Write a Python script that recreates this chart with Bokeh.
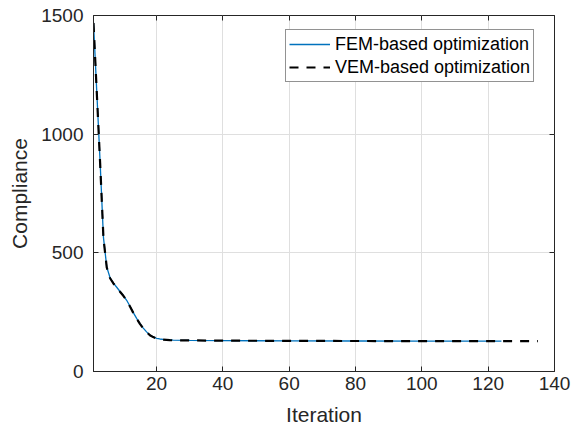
from bokeh.plotting import figure
from bokeh.models import Range1d, LinearAxis, Legend, LegendItem, FixedTicker
from bokeh.embed import file_html
from bokeh.resources import INLINE

# Data
fem_iter = [1, 2, 3, 4, 5, 6, 7, 8, 9, 10, 11, 12, 13, 14, 15, 16, 17, 18, 19, 20,
            21, 22, 23, 24, 25, 30, 40, 60, 80, 100, 124]
fem_val = [1470, 1175, 880, 565, 440, 395, 372, 355, 337, 320, 300, 275, 248, 224, 202,
           183, 167, 154, 146, 140, 137, 135, 134, 133, 132, 131, 130, 129, 128.5, 128, 128]

vem_iter = [1, 2, 3, 4, 5, 6, 7, 8, 9, 10, 11, 12, 13, 14, 15, 16, 17, 18, 19, 20,
            21, 22, 23, 24, 25, 30, 40, 60, 80, 100, 120, 135]
vem_val = [1468, 1172, 878, 562, 438, 393, 371, 354, 336, 319, 299, 274, 247, 223, 201,
           182, 166, 153, 145, 139, 136, 134, 133, 132, 131.5, 131, 130, 129, 128.5, 128, 128, 128]

x_ticks = [20, 40, 60, 80, 100, 120, 140]
y_ticks = [0, 500, 1000, 1500]

FONT = "Liberation Sans"
AX = "#262626"

p = figure(width=571, height=428, output_backend="svg", toolbar_location=None,
           x_range=Range1d(1, 140), y_range=Range1d(0, 1500),
           min_border_left=93, min_border_right=17, min_border_top=15, min_border_bottom=57)
p.outline_line_color = AX
p.outline_line_width = 1
p.background_fill_color = "white"

for ax in (p.xaxis[0], p.yaxis[0]):
    ax.axis_line_color = AX
    ax.major_tick_line_color = AX
    ax.major_tick_in = 5
    ax.major_tick_out = 0
    ax.minor_tick_line_color = None
    ax.major_label_text_font = FONT
    ax.major_label_text_font_size = "19px"
    ax.major_label_text_color = AX
    ax.axis_label_text_font = FONT
    ax.axis_label_text_font_size = "21px"
    ax.axis_label_text_font_style = "normal"
    ax.axis_label_text_color = AX

p.xaxis.ticker = FixedTicker(ticks=x_ticks)
p.yaxis.ticker = FixedTicker(ticks=y_ticks)
p.xaxis.axis_label = "Iteration"
p.yaxis.axis_label = "Compliance"
p.xaxis.major_label_standoff = 5
p.xaxis.axis_label_standoff = 10
p.yaxis.major_label_standoff = 10
p.yaxis.axis_label_standoff = 7

# box ticks on top and right (no labels)
top = LinearAxis(ticker=FixedTicker(ticks=x_ticks), axis_line_color=None,
                 major_tick_in=5, major_tick_out=0, major_tick_line_color=AX,
                 minor_tick_line_color=None,
                 major_label_overrides={t: "" for t in x_ticks},
                 major_label_standoff=0)
right = LinearAxis(ticker=FixedTicker(ticks=y_ticks), axis_line_color=None,
                   major_tick_in=5, major_tick_out=0, major_tick_line_color=AX,
                   minor_tick_line_color=None,
                   major_label_overrides={t: "" for t in y_ticks},
                   major_label_standoff=0)
p.add_layout(top, "above")
p.add_layout(right, "right")

p.xgrid.ticker = FixedTicker(ticks=x_ticks)
p.ygrid.ticker = FixedTicker(ticks=y_ticks)
p.grid.grid_line_color = "#dfdfdf"
p.grid.grid_line_width = 1

r_fem = p.line(fem_iter, fem_val, line_color="#0072BD", line_width=1.3)
r_vem = p.line(vem_iter, vem_val, line_color="black", line_width=2.2, line_dash="9 8")

legend = Legend(items=[LegendItem(label="FEM-based optimization", renderers=[r_fem]),
                       LegendItem(label="VEM-based optimization", renderers=[r_vem])],
                location=(192, 289))
legend.label_text_font = FONT
legend.label_text_font_size = "18px"
legend.label_text_color = "black"
legend.label_height = 22
legend.glyph_width = 41
legend.glyph_height = 22
legend.label_standoff = 5
legend.padding = 3
legend.spacing = 1
legend.margin = 0
legend.border_line_color = AX
legend.border_line_width = 1
legend.background_fill_color = "white"
legend.background_fill_alpha = 1
p.add_layout(legend, "center")

open("out.html", "w").write(file_html(p, INLINE))
